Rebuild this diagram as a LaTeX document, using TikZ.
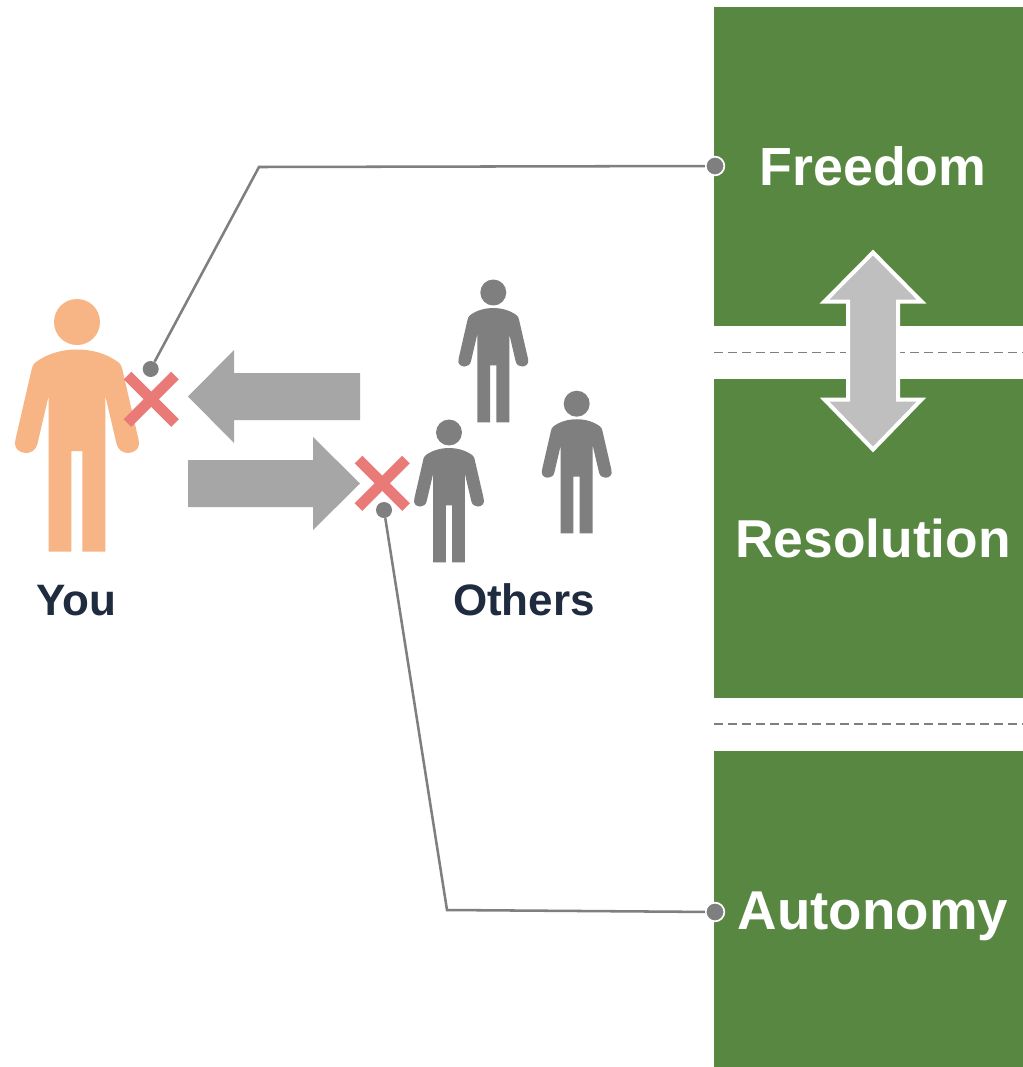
\documentclass[tikz,border=0pt]{standalone}
\usepackage{fontspec}
\setmainfont{Liberation Sans}
\definecolor{greenbox}{HTML}{588741}
\definecolor{peach}{HTML}{F7B585}
\definecolor{figgrey}{HTML}{7F7F7F}
\definecolor{arrowgrey}{HTML}{A6A6A6}
\definecolor{crossred}{HTML}{E97A77}
\definecolor{inkdark}{HTML}{1F2B3E}
\definecolor{dbl}{HTML}{BFBFBF}
\tikzset{
  panel/.style={fill=greenbox,draw=none},
  paneltext/.style={text=white,font=\bfseries\fontsize{#1}{48}\selectfont,anchor=base,inner sep=0pt},
  figlabel/.style={text=inkdark,font=\bfseries\fontsize{33}{38}\selectfont,anchor=base,inner sep=0pt},
  sep/.style={draw=figgrey,line width=1.4pt,dash pattern=on 6.5pt off 4pt},
  flow/.style={fill=arrowgrey,draw=none},
  crossbar/.style={draw=crossred,line width=8.2pt},
  leader/.style={draw=figgrey,line width=1.9pt},
  dot/.style={circle,fill=figgrey,draw=none,minimum size=12pt,inner sep=0pt},
  dotw/.style={circle,fill=figgrey,draw=white,line width=1.3pt,minimum size=14pt,inner sep=0pt},
  pics/person/.style={code={
    \fill[#1] (0,0) circle (23);
    \fill[#1] (0,27.5) .. controls (-16,27.5) and (-30,32) .. (-41,40)
      .. controls (-44,42.5) and (-45,45) .. (-45.5,48)
      -- (-61.4,117) .. controls (-64,127) and (-57,131) .. (-51,131)
      .. controls (-46,131) and (-41,128) .. (-39.6,122)
      -- (-28.3,73.7) -- (-28.3,229.7) -- (-5.7,229.7) -- (-5.7,129) -- (5.3,129)
      -- (5.3,229.7) -- (28.3,229.7) -- (28.3,73.7) -- (39.6,122)
      .. controls (41,128) and (46,131) .. (51,131)
      .. controls (57,131) and (64,127) .. (61.4,117)
      -- (45.5,48) .. controls (45,45) and (44,42.5) .. (41,40)
      .. controls (30,32) and (16,27.5) .. (0,27.5) -- cycle;
  }}
}
\begin{document}
\begin{tikzpicture}[x=0.75pt,y=-0.75pt]
\path[use as bounding box,fill=white] (0,0) rectangle (1023,1067);
% panels
\path[panel] (714,7) rectangle (1023,326);
\path[panel] (714,379) rectangle (1023,698);
\path[panel] (714,751) rectangle (1023,1067);
\coordinate (s1a) at (714,352.5); \coordinate (s1b) at (1023,352.5);
\coordinate (s2a) at (714,724); \coordinate (s2b) at (1023,724);
\draw[sep] (s1a) -- (s1b);
\draw[sep] (s2a) -- (s2b);
\node[paneltext=40.3] (freedom) at (873,185) {Freedom};
\node[paneltext=40] (resolution) at (873,557) {Resolution};
\node[paneltext=41] (autonomy) at (873,929) {Autonomy};
% double arrow
\draw[fill=dbl,draw=white,line width=3pt,miter limit=10]
  (873,252.5) -- (824.5,301.5) -- (848,301.5) -- (848,399.5) -- (824.5,399.5)
  -- (873,449.5) -- (921.5,399.5) -- (898,399.5) -- (898,301.5) -- (921.5,301.5) -- cycle;
% people
\pic at (77,322) {person=peach};
\pic[scale=0.565] at (493.3,292.5) {person=figgrey};
\pic[scale=0.565] at (576.7,403.7) {person=figgrey};
\pic[scale=0.565] at (449,432.5) {person=figgrey};
% flows
\path[flow] (188,396.5) -- (234,350) -- (234,373) -- (360,373) -- (360,420) -- (234,420) -- (234,443) -- cycle;
\path[flow] (188,460) -- (313,460) -- (313,437) -- (360,483.5) -- (313,530) -- (313,507) -- (188,507) -- cycle;
% crosses
\draw[crossbar] (127.5,375.5) -- (175,423);
\draw[crossbar] (175,375.5) -- (127.5,423);
\draw[crossbar] (358.5,459.5) -- (406,507);
\draw[crossbar] (406,459.5) -- (358.5,507);
% leaders
\coordinate (k1) at (259,167);
\coordinate (k2) at (447,910);
\node[dot] (d1) at (150.7,369) {};
\node[dot] (d2) at (384,510) {};
\node[dotw] (r1) at (715,166) {};
\node[dotw] (r2) at (715,912) {};
\draw[leader] (d1) -- (k1) -- (r1);
\draw[leader] (d2) -- (k2) -- (r2);
\node[figlabel] (you) at (76,615) {You};
\node[figlabel] (others) at (524,615) {Others};
\end{tikzpicture}
\end{document}
